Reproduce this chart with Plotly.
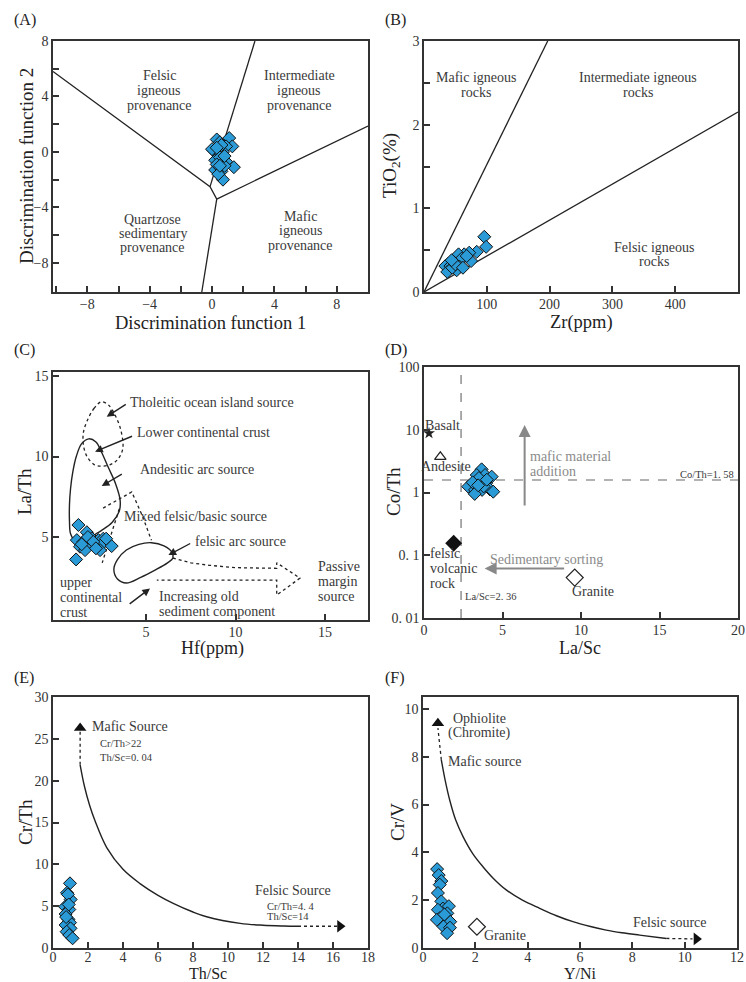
import math
import plotly.graph_objects as go

# ---------------- data ----------------
# (A) discrimination functions
A_df1 = [0.3, 0.5, 1.1, 1.3, 0.1, 0.9, 0.4, 0.7, 0.2, 0.9, 1.4, 0.2, 0.6, 0.7, 0.0, 0.5, 0.3, 0.8, 0.6, 0.4, 0.8, 0.5, 0.3]
A_df2 = [0.9, 0.7, 1.0, 0.4, 0.1, 0.4, -0.2, 0.0, -0.6, -0.7, -1.1, -1.3, -1.4, -2.0, 0.2, -0.4, -0.9, -1.0, 0.5, -1.6, -0.3, -1.0, 0.3]
A_bx = [-10.2, -0.13, 0.3, 10.0, None, 0.3, -0.66, None, -0.13, 2.75]
A_by = [5.8, -2.5, -3.4, 1.87, None, -3.4, -10.1, None, -2.5, 8.0]

# (B) Zr vs TiO2
B_zr = [96, 99, 84, 72, 64, 55, 60, 75, 47, 39, 34, 42, 57, 52, 37, 45, 68, 50, 62, 44]
B_ti = [0.66, 0.54, 0.48, 0.47, 0.45, 0.45, 0.40, 0.37, 0.36, 0.34, 0.31, 0.31, 0.30, 0.26, 0.24, 0.29, 0.43, 0.33, 0.29, 0.38]
B_lx = [0, 197, None, 0, 500]
B_ly = [0, 3.0, None, 0, 2.15]

# (C) Hf vs La/Th
C_hf = [1.22, 1.09, 1.69, 1.13, 1.50, 1.97, 1.80, 2.34, 2.61, 2.53, 2.43, 3.08, 1.31, 1.59, 2.77, 1.75, 2.05, 1.40, 2.20]
C_lath = [5.75, 3.61, 5.30, 4.81, 4.71, 4.92, 4.60, 4.81, 4.90, 4.56, 4.19, 4.44, 4.40, 4.19, 4.90, 5.00, 4.70, 4.55, 4.30]
C_thol_x = [2.5, 2.1, 1.7, 1.5, 1.5, 1.7, 2.1, 2.5, 3.0, 3.4, 3.7, 3.6, 3.3, 2.9, 2.5]
C_thol_y = [13.4, 13.0, 12.2, 11.5, 10.7, 10.0, 9.5, 9.4, 9.5, 9.8, 10.5, 11.6, 12.5, 13.2, 13.4]
C_lcc_x = [1.8, 1.4, 1.1, 0.9, 0.78, 0.72, 0.72, 0.78, 1.0, 1.4, 1.9, 2.5, 3.1, 3.5, 3.55, 3.3, 2.9, 2.5, 2.2, 1.8]
C_lcc_y = [11.1, 10.8, 10.0, 9.0, 8.0, 7.0, 6.0, 5.2, 4.8, 4.7, 5.0, 5.4, 5.9, 6.6, 7.3, 8.3, 9.3, 10.3, 10.9, 11.1]
C_mix_x = [2.6, 3.5, 4.2, 4.8, 5.3, None, 3.5, 2.55]
C_mix_y = [6.8, 7.35, 7.8, 6.3, 4.8, None, 6.75, 3.4]
C_fel_x = [3.2, 3.4, 3.9, 4.6, 5.3, 6.0, 6.45, 6.5, 6.2, 5.5, 4.7, 3.9, 3.4, 3.2]
C_fel_y = [3.0, 3.6, 4.2, 4.55, 4.65, 4.45, 4.05, 3.7, 3.4, 2.95, 2.5, 2.15, 2.4, 3.0]
C_pas_x = [6.5, 7.5, 8.5, 10.0, 12.3, 12.3, 13.6, 12.3, 12.3, 5.6]
C_pas_y = [3.7, 3.4, 3.25, 3.1, 3.06, 3.4, 2.45, 1.4, 2.33, 2.33]

# (D) La/Sc vs Co/Th
D_lasc = [3.67, 3.36, 3.89, 4.31, 2.82, 3.57, 3.95, 3.25, 3.70, 4.20, 4.41, 3.23, 3.50, 3.80, 3.10, 4.00, 3.45]
D_coth = [2.34, 1.90, 1.90, 1.79, 1.24, 1.48, 1.40, 1.10, 1.10, 1.12, 1.03, 0.95, 1.70, 1.25, 1.45, 1.60, 1.30]
D_ref_x = [0.32, 1.04, 1.89, 9.6]
D_ref_y = [8.8, 3.7, 0.155, 0.044]
D_lasc_ref = 2.36
D_coth_ref = 1.58

# (E) Th/Sc vs Cr/Th
E_thsc = [0.97, 0.80, 1.01, 0.69, 0.93, 0.72, 0.88, 0.97, 0.72, 1.00, 0.78, 0.93, 1.12, 0.85, 0.75, 0.90]
E_crth = [7.73, 6.60, 5.80, 4.93, 4.60, 4.06, 3.43, 3.03, 2.75, 2.35, 1.95, 1.55, 1.16, 6.40, 3.70, 5.20]
E_curve_x = [1.55, 1.8, 2.1, 2.4, 3.07, 4.0, 4.97, 6.0, 6.87, 8.0, 8.78, 10.7, 12.0, 13.2, 14.0]
E_curve_y = [21.9, 19.3, 17.0, 15.2, 12.0, 9.4, 7.7, 6.3, 5.34, 4.3, 3.74, 2.95, 2.72, 2.63, 2.6]

# (F) Y/Ni vs Cr/V
F_yni = [0.54, 0.60, 0.70, 0.64, 0.57, 0.70, 0.76, 0.99, 0.57, 0.93, 0.64, 0.80, 1.04, 0.78, 1.03, 0.92, 0.53, 0.82]
F_crv = [3.30, 3.05, 2.80, 2.65, 2.30, 1.95, 1.65, 1.75, 1.60, 1.45, 1.25, 1.10, 1.10, 0.90, 0.85, 0.62, 1.18, 1.40]
F_curve_x = [0.7, 0.85, 1.02, 1.25, 1.53, 1.9, 2.29, 2.7, 3.18, 3.8, 4.46, 5.1, 5.73, 6.4, 7.0, 7.6, 8.28, 9.3]
F_curve_y = [7.87, 7.0, 6.19, 5.35, 4.66, 3.95, 3.4, 2.9, 2.43, 2.0, 1.66, 1.35, 1.1, 0.9, 0.75, 0.64, 0.54, 0.4]
F_granite = (2.06, 0.89)

# ---------------- styling ----------------
SERIF = "Liberation Serif"
AX = "#333333"
TXT = "#3a3a3a"
BLUE = "#2b9bd8"
W, H = 746, 982
LBL = 14
SMALL = 10.5

def dom_x(p0, p1):
    return [p0 / W, p1 / W]

def dom_y(top, bottom):
    return [1 - bottom / H, 1 - top / H]

sample_marker = dict(symbol="diamond", size=10, color=BLUE, line=dict(color="#111", width=1))

fig = go.Figure()

def scat(x, y, ax, **kw):
    fig.add_trace(go.Scatter(x=x, y=y, xaxis="x" + ax, yaxis="y" + ax, showlegend=False,
                             hoverinfo="skip", **kw))

def line(x, y, ax, dash="solid", width=1.3, color="#222", shape="linear"):
    scat(x, y, ax, mode="lines", line=dict(color=color, width=width, dash=dash, shape=shape))

ann = []

def text(x, y, ax, s, size=LBL, color=TXT, xanchor="center", yanchor="middle", align="center"):
    ann.append(dict(x=x, y=y, xref="x" + ax, yref="y" + ax, text=s, showarrow=False,
                    xanchor=xanchor, yanchor=yanchor, align=align,
                    font=dict(family=SERIF, size=size, color=color)))

def lines(x, ys, ax, rows, **kw):
    for yy, s in zip(ys, rows):
        text(x, yy, ax, s, **kw)

def arrow(x0, y0, x1, y1, ax, color="#222", width=1.4, size=1.1):
    ann.append(dict(x=x1, y=y1, ax=x0, ay=y0, xref="x" + ax, yref="y" + ax,
                    axref="x" + ax, ayref="y" + ax, text="", showarrow=True,
                    arrowhead=2, arrowsize=size, arrowwidth=width, arrowcolor=color))

def ptitle(s, px, py, vertical=False, size=19):
    ann.append(dict(x=px / W, y=1 - py / H, xref="paper", yref="paper", text=s,
                    showarrow=False, xanchor="center", yanchor="middle",
                    textangle=-90 if vertical else 0,
                    font=dict(family=SERIF, size=size, color="#222")))

L = math.log10

# ---- A ----
line(A_bx, A_by, "")
scat(A_df1, A_df2, "", mode="markers", marker=sample_marker)
lines(-3.4, [5.48, 4.42, 3.36], "", ["Felsic", "igneous", "provenance"])
lines(5.6, [5.48, 4.42, 3.36], "", ["Intermediate", "igneous", "provenance"])
lines(-3.8, [-4.85, -5.86, -6.9], "", ["Quartzose", "sedimentary", "provenance"])
lines(5.7, [-4.66, -5.69, -6.75], "", ["Mafic", "igneous", "provenance"])

# ---- B ----
line(B_lx, B_ly, "2")
scat(B_zr, B_ti, "2", mode="markers", marker=sample_marker)
lines(83, [2.56, 2.39], "2", ["Mafic igneous", "rocks"])
lines(341, [2.56, 2.39], "2", ["Intermediate igneous", "rocks"])
lines(367, [0.53, 0.36], "2", ["Felsic igneous", "rocks"])

# ---- C ----
line(C_thol_x, C_thol_y, "3", dash="dot", width=1.3, shape="spline")
line(C_lcc_x, C_lcc_y, "3", width=1.4, shape="spline")
line(C_mix_x, C_mix_y, "3", dash="dot", width=1.3)
line(C_fel_x, C_fel_y, "3", width=1.4, shape="spline")
line(C_pas_x, C_pas_y, "3", dash="dot", width=1.3)
scat(C_hf, C_lath, "3", mode="markers", marker=sample_marker)
arrow(3.95, 13.3, 2.8, 12.47, "3")
arrow(4.3, 11.3, 2.15, 10.3, "3")
arrow(3.73, 8.96, 2.52, 8.17, "3")
arrow(7.55, 4.65, 6.25, 3.88, "3")
arrow(4.0, 0.78, 5.22, 1.81, "3")
text(4.0, 13.35, "3", "Tholeitic ocean island source", xanchor="left")
text(4.39, 11.5, "3", "Lower continental crust", xanchor="left")
text(4.55, 9.2, "3", "Andesitic arc source", xanchor="left")
text(3.65, 6.3, "3", "Mixed felsic/basic source", xanchor="left")
text(7.64, 4.7, "3", "felsic arc source", xanchor="left")
lines(5.6, [1.32, 0.38], "3", ["Increasing old", "sediment component"], xanchor="left")
lines(0.06, [2.2, 1.25, 0.32], "3", ["upper", "continental", "crust"], xanchor="left")
lines(14.5, [3.2, 2.25, 1.3], "3", ["Passive", "margin", "source"], xanchor="left")

# ---- D ----  (annotation y positions on a log axis are given in log10 units)
line([D_lasc_ref, D_lasc_ref], [0.01, 100], "4", dash="dash", width=1.1, color="#666")
line([0, 20], [D_coth_ref, D_coth_ref], "4", dash="dash", width=1.1, color="#666")
scat([D_ref_x[0]], [D_ref_y[0]], "4", mode="markers",
     marker=dict(symbol="star", size=9, color="#222"))
scat([D_ref_x[1]], [D_ref_y[1]], "4", mode="markers",
     marker=dict(symbol="triangle-up-open", size=10, color="#222", line=dict(width=1.2)))
scat([D_ref_x[2]], [D_ref_y[2]], "4", mode="markers",
     marker=dict(symbol="diamond", size=13, color="#111"))
scat([D_ref_x[3]], [D_ref_y[3]], "4", mode="markers",
     marker=dict(symbol="diamond-open", size=13, color="#222", line=dict(width=1.2)))
scat(D_lasc, D_coth, "4", mode="markers", marker=sample_marker)
arrow(6.41, L(0.59), 6.41, L(11.9), "4", color="#888", width=2, size=1.2)
arrow(9.02, L(0.0617), 3.86, L(0.0617), "4", color="#888", width=2, size=1.2)
text(1.2, L(11.9), "4", "Basalt")
text(1.42, L(2.58), "4", "Andesite")
lines(0.25, [-0.97, -1.21, -1.45], "4", ["felsic", "volcanic", "rock"], xanchor="left")
text(10.77, L(0.0263), "4", "Granite")
lines(6.62, [0.57, 0.34], "4", ["mafic material", "addition"], color="#8a8a8a", xanchor="left")
text(7.78, L(0.087), "4", "Sedimentary sorting", color="#8a8a8a")
text(19.85, L(1.97), "4", "Co/Th=1. 58", size=SMALL, xanchor="right")
text(2.5, L(0.0224), "4", "La/Sc=2. 36", size=SMALL, xanchor="left")

# ---- E ----
line(E_curve_x, E_curve_y, "5", width=1.4, shape="spline")
line([E_curve_x[0], E_curve_x[0]], [E_curve_y[0], 26.0], "5", dash="dot", width=1.3)
line([E_curve_x[-1], 16.3], [E_curve_y[-1], E_curve_y[-1]], "5", dash="dot", width=1.3)
scat([E_curve_x[0]], [26.3], "5", mode="markers", marker=dict(symbol="triangle-up", size=11, color="#111"))
scat([16.4], [E_curve_y[-1]], "5", mode="markers", marker=dict(symbol="triangle-right", size=11, color="#111"))
scat(E_thsc, E_crth, "5", mode="markers", marker=sample_marker)
text(2.11, 26.5, "5", "Mafic Source", xanchor="left")
lines(2.59, [24.4, 22.8], "5", ["Cr/Th>22", "Th/Sc=0. 04"], size=SMALL, xanchor="left")
text(13.7, 6.93, "5", "Felsic Source")
lines(12.1, [4.93, 3.74], "5", ["Cr/Th=4. 4", "Th/Sc=14"], size=SMALL, xanchor="left")

# ---- F ----
line(F_curve_x, F_curve_y, "6", width=1.4, shape="spline")
line([F_curve_x[0], 0.57], [F_curve_y[0], 9.2], "6", dash="dot", width=1.3)
line([F_curve_x[-1], 10.3], [F_curve_y[-1], 0.38], "6", dash="dot", width=1.3)
scat([0.57], [9.4], "6", mode="markers", marker=dict(symbol="triangle-up", size=11, color="#111"))
scat([10.45], [0.38], "6", mode="markers", marker=dict(symbol="triangle-right", size=11, color="#111"))
scat([F_granite[0]], [F_granite[1]], "6", mode="markers",
     marker=dict(symbol="diamond-open", size=13, color="#222", line=dict(width=1.2)))
scat(F_yni, F_crv, "6", mode="markers", marker=sample_marker)
lines(2.17, [9.6, 8.98], "6", ["Ophiolite", "(Chromite)"])
text(0.89, 7.8, "6", "Mafic source", xanchor="left")
text(9.43, 1.06, "6", "Felsic source")
text(2.27, 0.54, "6", "Granite", xanchor="left")

# panel letters
for lab, px, py in [("(A)", 12, 20), ("(B)", 383, 20), ("(C)", 12, 350),
                    ("(D)", 383, 350), ("(E)", 12, 678), ("(F)", 383, 678)]:
    ann.append(dict(x=px / W, y=1 - py / H, xref="paper", yref="paper", text=lab,
                    showarrow=False, xanchor="left", yanchor="middle",
                    font=dict(family=SERIF, size=16, color="#222")))

# axis titles
ptitle("Discrimination function 1", 210, 323, size=18.5)
ptitle("Discrimination function 2", 26, 166, vertical=True)
ptitle("Zr(ppm)", 581, 323, size=18.5)
ptitle("TiO<sub>2</sub>(%)", 391, 166, vertical=True)
ptitle("Hf(ppm)", 212, 648, size=18)
ptitle("La/Th", 25, 492, vertical=True)
ptitle("La/Sc", 580, 648, size=18)
ptitle("Co/Th", 394, 492, vertical=True)
ptitle("Th/Sc", 208, 973.5, size=16)
ptitle("Cr/Th", 25, 822, vertical=True)
ptitle("Y/Ni", 580, 973.5, size=16)
ptitle("Cr/V", 397, 822, vertical=True)

def axis(domain, rng, anchor, **kw):
    d = dict(domain=domain, range=rng, anchor=anchor, showline=True, mirror=True,
             linecolor=AX, linewidth=1.5, ticks="inside", ticklen=6, tickwidth=1.5,
             tickcolor=AX, showgrid=False, zeroline=False, automargin=False,
             tickfont=dict(family=SERIF, size=14, color="#333"))
    d.update(kw)
    return d

def minor(vals):
    return dict(ticks="inside", ticklen=6, tickwidth=1.5, tickcolor=AX, tickvals=vals)

layout = dict(
    width=W, height=H, margin=dict(l=0, r=0, t=0, b=0),
    paper_bgcolor="white", plot_bgcolor="white", showlegend=False,
    annotations=ann,
    xaxis=axis(dom_x(53, 368), [-10.2, 10.0], "y", tickvals=[-8, -4, 0, 4, 8],
               minor=minor([-10, -6, -2, 2, 6]), ticklabelstandoff=-2),
    yaxis=axis(dom_y(41, 292), [-10.1, 8.0], "x", tickvals=[-8, -4, 0, 4, 8],
               minor=minor([-6, -2, 2, 6])),
    xaxis2=axis(dom_x(424, 738), [0, 500], "y2", tickvals=[100, 200, 300, 400, 500],
                ticklabelstandoff=-2),
    yaxis2=axis(dom_y(41, 292), [0, 3], "x2", tickvals=[0, 1, 2, 3],
                minor=minor([0.5, 1.5, 2.5])),
    xaxis3=axis(dom_x(53, 368), [-0.2, 17.4], "y3", tickvals=[5, 10, 15], ticklabelstandoff=-2),
    yaxis3=axis(dom_y(372, 620), [-0.15, 15.25], "x3", tickvals=[5, 10, 15]),
    xaxis4=axis(dom_x(424, 738), [0, 20], "y4", tickvals=[0, 5, 10, 15, 20], ticklabelstandoff=-2),
    yaxis4=axis(dom_y(367, 618), [-2, 2], "x4", type="log",
                tickvals=[0.01, 0.1, 1, 10, 100], ticktext=["0. 01", "0. 1", "1", "10", "100"]),
    xaxis5=axis(dom_x(53, 368), [0, 18], "y5", tickvals=list(range(0, 19, 2)), ticklabelstandoff=-5),
    yaxis5=axis(dom_y(697, 948), [0, 30], "x5", tickvals=list(range(0, 31, 5))),
    xaxis6=axis(dom_x(423, 737), [0, 12], "y6", tickvals=list(range(0, 13, 2)), ticklabelstandoff=-5),
    yaxis6=axis(dom_y(697, 948), [0, 10.5], "x6", tickvals=list(range(0, 11, 2))),
)
fig.update_layout(**layout)
fig.write_html("out.html")
